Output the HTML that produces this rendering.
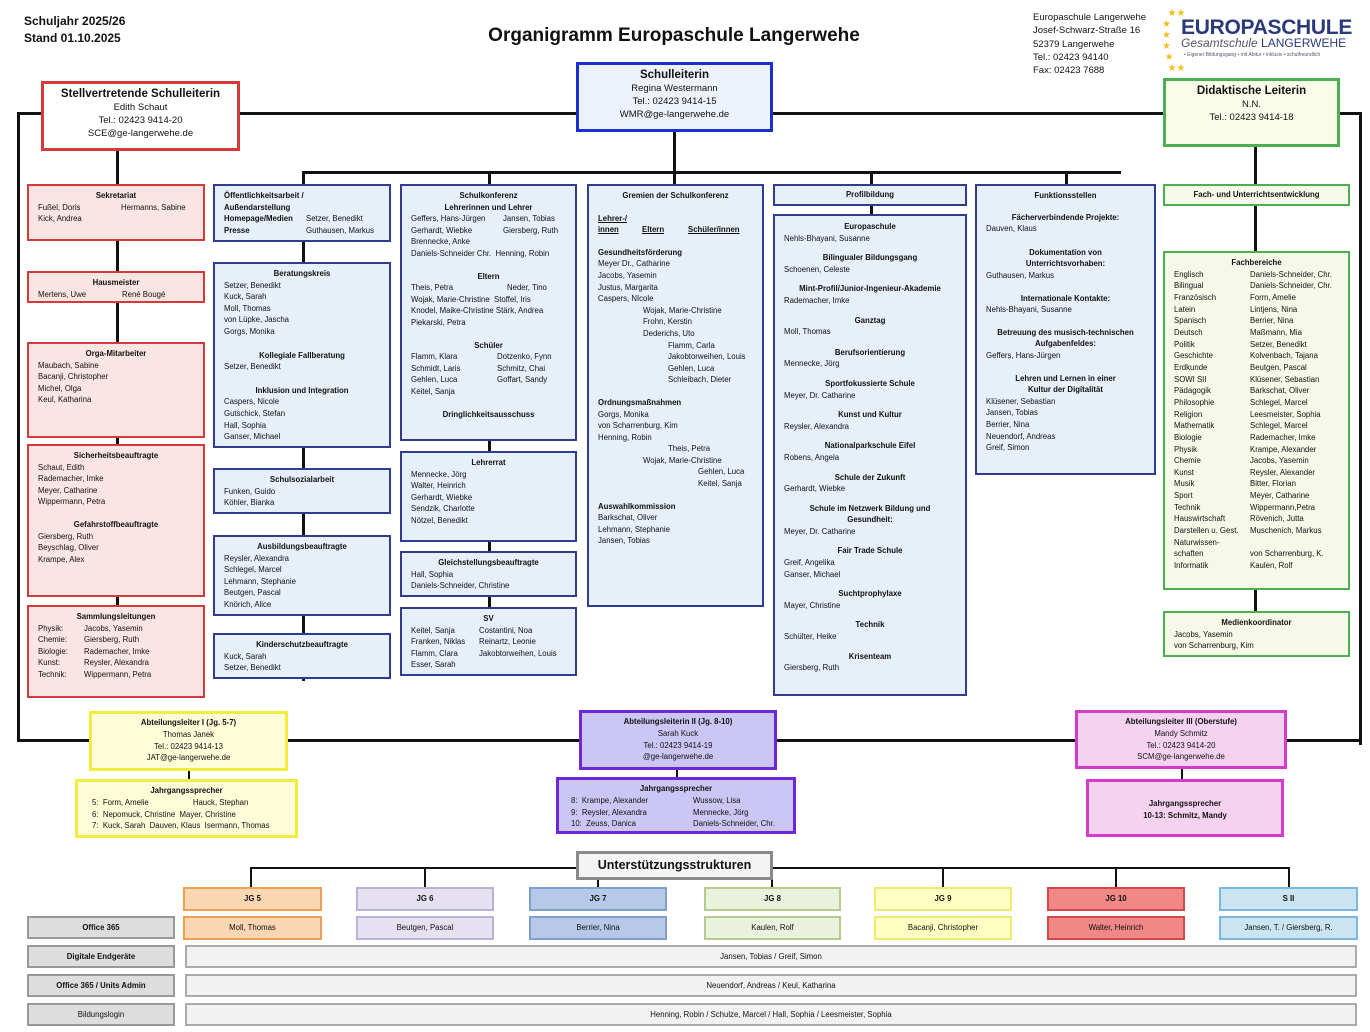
<!DOCTYPE html>
<html><head><meta charset="utf-8"><style>
body{margin:0;width:1370px;height:1032px;background:#fff;position:relative;overflow:hidden;font-family:"Liberation Sans",sans-serif;color:#111}
.b{position:absolute;box-sizing:border-box;border:2px solid #2e3d8f;background:#e7eff9;font-size:7.8px;line-height:11.6px;padding:4px 9px;white-space:nowrap;z-index:2}
.r{border-color:#d43a3a;background:#fbe4e4}
.g{border-color:#4caf50;background:#f6f9e8}
.t{font-weight:bold;text-align:center}
.s{display:inline-block}
.l{position:absolute;background:#111;z-index:1}
.u{text-decoration:underline;font-weight:bold}
.big{position:absolute;box-sizing:border-box;border:3px solid;text-align:center;font-size:9.5px;line-height:13px;padding-top:4px;z-index:3}
.big b{font-size:11.5px}
.m{position:absolute;box-sizing:border-box;border:3px solid;text-align:center;font-size:7.8px;line-height:11.8px;padding-top:3px;z-index:3;white-space:nowrap}
.j{position:absolute;box-sizing:border-box;border:2px solid;font-size:7.8px;text-align:center;line-height:19px;z-index:2}
.gr{position:absolute;box-sizing:border-box;border:2px solid #999;background:#ddd;font-size:7.8px;font-weight:bold;text-align:center;line-height:19px;left:27px;width:148px;height:23px}
.w{position:absolute;box-sizing:border-box;border:2px solid #aaa;background:#f1f1f1;font-size:7.8px;text-align:center;line-height:19px;left:185px;width:1172px;height:23px}
</style></head><body>

<div style="position:absolute;left:24px;top:13px;font-size:12px;font-weight:bold;line-height:17px">Schuljahr 2025/26<br>Stand 01.10.2025</div>
<div style="position:absolute;left:420px;width:508px;top:25px;text-align:center;font-size:19px;font-weight:bold">Organigramm Europaschule Langerwehe</div>
<div style="position:absolute;left:1033px;top:11px;font-size:9.5px;line-height:13.3px">Europaschule Langerwehe<br>Josef-Schwarz-Straße 16<br>52379 Langerwehe<br>Tel.: 02423 94140<br>Fax: 02423 7688</div>
<div style="position:absolute;left:1162px;top:8px;width:20px;height:66px;color:#f0c020;font-size:10px;line-height:11px">&nbsp;&nbsp;★★<br>★<br>★<br>★<br>&nbsp;★<br>&nbsp;&nbsp;★★</div>
<div style="position:absolute;left:1181px;top:17px;color:#2b3a7a;font-weight:bold;font-size:21px;line-height:22px;letter-spacing:-0.3px">EUROPASCHULE</div>
<div style="position:absolute;left:1181px;top:37px;color:#2b3a7a;font-size:12px;line-height:13px"><i style="font-weight:normal;color:#556">Gesamtschule</i> LANGERWEHE</div>
<div style="position:absolute;left:1184px;top:52px;color:#556;font-size:5px">• Eigener Bildungsgang • mit Abitur • inklusiv • schulfreundlich</div>

<!-- lines -->
<div class="l" style="left:17px;top:112px;width:1345px;height:3px"></div>
<div class="l" style="left:17px;top:112px;width:3px;height:629px"></div>
<div class="l" style="left:1359px;top:112px;width:3px;height:633px"></div>
<div class="l" style="left:17px;top:739px;width:1345px;height:3px"></div>
<div class="l" style="left:673px;top:130px;width:3px;height:43px"></div>
<div class="l" style="left:302px;top:171px;width:819px;height:3px"></div>
<div class="l" style="left:302px;top:171px;width:3px;height:510px"></div>
<div class="l" style="left:488px;top:171px;width:3px;height:500px"></div>
<div class="l" style="left:673px;top:171px;width:3px;height:15px"></div>
<div class="l" style="left:870px;top:171px;width:3px;height:45px"></div>
<div class="l" style="left:1065px;top:171px;width:3px;height:15px"></div>
<div class="l" style="left:116px;top:148px;width:3px;height:550px"></div>
<div class="l" style="left:1254px;top:145px;width:3px;height:470px"></div>
<div class="l" style="left:188px;top:768px;width:2px;height:12px"></div>
<div class="l" style="left:676px;top:767px;width:2px;height:12px"></div>
<div class="l" style="left:1181px;top:766px;width:2px;height:14px"></div>
<div class="l" style="left:250px;top:867px;width:1040px;height:2px"></div>
<div class="l" style="left:250px;top:867px;width:2px;height:21px"></div>
<div class="l" style="left:424px;top:867px;width:2px;height:21px"></div>
<div class="l" style="left:597px;top:867px;width:2px;height:21px"></div>
<div class="l" style="left:771px;top:867px;width:2px;height:21px"></div>
<div class="l" style="left:942px;top:867px;width:2px;height:21px"></div>
<div class="l" style="left:1115px;top:867px;width:2px;height:21px"></div>
<div class="l" style="left:1288px;top:867px;width:2px;height:21px"></div>

<!-- top boxes -->
<div class="big" style="left:576px;top:62px;width:197px;height:70px;border-color:#1a2fd0;background:#eef3fb"><b>Schulleiterin</b><br>Regina Westermann<br>Tel.: 02423 9414-15<br>WMR@ge-langerwehe.de</div>
<div class="big" style="left:41px;top:81px;width:199px;height:70px;border-color:#d43a3a;background:#fff"><b>Stellvertretende Schulleiterin</b><br>Edith Schaut<br>Tel.: 02423 9414-20<br>SCE@ge-langerwehe.de</div>
<div class="big" style="left:1163px;top:78px;width:177px;height:69px;border-color:#4caf50;background:#f8fbe8"><b>Didaktische Leiterin</b><br>N.N.<br>Tel.: 02423 9414-18</div>

<!-- col1 -->
<div class="b r" style="left:27px;top:184px;width:178px;height:57px"><div class="t">Sekretariat</div><span class="s" style="width:83px">Fußel, Doris</span>Hermanns, Sabine<br>Kick, Andrea</div>
<div class="b r" style="left:27px;top:271px;width:178px;height:32px"><div class="t">Hausmeister</div><span class="s" style="width:84px">Mertens, Uwe</span>René Bougé</div>
<div class="b r" style="left:27px;top:342px;width:178px;height:96px"><div class="t">Orga-Mitarbeiter</div>Maubach, Sabine<br>Bacanji, Christopher<br>Michel, Olga<br>Keul, Katharina</div>
<div class="b r" style="left:27px;top:444px;width:178px;height:153px"><div class="t">Sicherheitsbeauftragte</div>Schaut, Edith<br>Rademacher, Imke<br>Meyer, Catharine<br>Wippermann, Petra<div style="height:11px"></div><div class="t">Gefahrstoffbeauftragte</div>Giersberg, Ruth<br>Beyschlag, Oliver<br>Krampe, Alex</div>
<div class="b r" style="left:27px;top:605px;width:178px;height:93px"><div class="t">Sammlungsleitungen</div><span class="s" style="width:46px">Physik:</span>Jacobs, Yasemin<br><span class="s" style="width:46px">Chemie:</span>Giersberg, Ruth<br><span class="s" style="width:46px">Biologie:</span>Rademacher, Imke<br><span class="s" style="width:46px">Kunst:</span>Reysler, Alexandra<br><span class="s" style="width:46px">Technik:</span>Wippermann, Petra</div>

<!-- col2 -->
<div class="b" style="left:213px;top:184px;width:178px;height:58px;font-weight:bold">Öffentlichkeitsarbeit /<br>Außendarstellung<br><span class="s" style="width:82px">Homepage/Medien</span><span style="font-weight:normal">Setzer, Benedikt</span><br><span class="s" style="width:82px">Presse</span><span style="font-weight:normal">Guthausen, Markus</span></div>
<div class="b" style="left:213px;top:262px;width:178px;height:186px"><div class="t">Beratungskreis</div>Setzer, Benedikt<br>Kuck, Sarah<br>Moll, Thomas<br>von Lüpke, Jascha<br>Gorgs, Monika<div style="height:12px"></div><div class="t">Kollegiale Fallberatung</div>Setzer, Benedikt<div style="height:12px"></div><div class="t">Inklusion und Integration</div>Caspers, Nicole<br>Gutschick, Stefan<br>Hall, Sophia<br>Ganser, Michael</div>
<div class="b" style="left:213px;top:468px;width:178px;height:46px"><div class="t">Schulsozialarbeit</div>Funken, Guido<br>Köhler, Bianka</div>
<div class="b" style="left:213px;top:535px;width:178px;height:81px"><div class="t">Ausbildungsbeauftragte</div>Reysler, Alexandra<br>Schlegel, Marcel<br>Lehmann, Stephanie<br>Beutgen, Pascal<br>Knörich, Alice</div>
<div class="b" style="left:213px;top:633px;width:178px;height:46px"><div class="t">Kinderschutzbeauftragte</div>Kuck, Sarah<br>Setzer, Benedikt</div>

<!-- col3 -->
<div class="b" style="left:400px;top:184px;width:177px;height:257px"><div class="t">Schulkonferenz<br>Lehrerinnen und Lehrer</div><span class="s" style="width:92px">Geffers, Hans-Jürgen</span>Jansen, Tobias<br><span class="s" style="width:92px">Gerhardt, Wiebke</span>Giersberg, Ruth<br>Brennecke, Anke<br>Daniels-Schneider Chr.&nbsp; Henning, Robin<div style="height:11px"></div><div class="t">Eltern</div><span class="s" style="width:96px">Theis, Petra</span>Neder, Tino<br>Wojak, Marie-Christine&nbsp; Stoffel, Iris<br>Knodel, Maike-Christine Stärk, Andrea<br>Piekarski, Petra<div style="height:11px"></div><div class="t">Schüler</div><span class="s" style="width:86px">Flamm, Klara</span>Dotzenko, Fynn<br><span class="s" style="width:86px">Schmidt, Laris</span>Schmitz, Chai<br><span class="s" style="width:86px">Gehlen, Luca</span>Goffart, Sandy<br>Keitel, Sanja<div style="height:11px"></div><div class="t">Dringlichkeitsausschuss</div></div>
<div class="b" style="left:400px;top:451px;width:177px;height:91px"><div class="t">Lehrerrat</div>Mennecke, Jörg<br>Walter, Heinrich<br>Gerhardt, Wiebke<br>Sendzik, Charlotte<br>Nötzel, Benedikt</div>
<div class="b" style="left:400px;top:551px;width:177px;height:46px"><div class="t">Gleichstellungsbeauftragte</div>Hall, Sophia<br>Daniels-Schneider, Christine</div>
<div class="b" style="left:400px;top:607px;width:177px;height:69px"><div class="t">SV</div><span class="s" style="width:68px">Keitel, Sanja</span>Costantini, Noa<br><span class="s" style="width:68px">Franken, Niklas</span>Reinartz, Leonie<br><span class="s" style="width:68px">Flamm, Clara</span>Jakobtorweihen, Louis<br>Esser, Sarah</div>

<!-- col4 -->
<div class="b" style="left:587px;top:184px;width:177px;height:423px"><div class="t">Gremien der Schulkonferenz</div><div style="height:11px"></div><span class="u">Lehrer-/</span><br><span class="s u" style="width:44px">innen</span><span class="s u" style="width:46px">Eltern</span><span class="u">Schüler/innen</span><div style="height:11px"></div><b>Gesundheitsförderung</b><br>Meyer Dr., Catharine<br>Jacobs, Yasemin<br>Justus, Margarita<br>Caspers, NIcole<br><span style="padding-left:45px">Wojak, Marie-Christine</span><br><span style="padding-left:45px">Frohn, Kerstin</span><br><span style="padding-left:45px">Dederichs, Uto</span><br><span style="padding-left:70px">Flamm, Carla</span><br><span style="padding-left:70px">Jakobtorweihen, Louis</span><br><span style="padding-left:70px">Gehlen, Luca</span><br><span style="padding-left:70px">Schleibach, Dieter</span><div style="height:11px"></div><b>Ordnungsmaßnahmen</b><br>Gorgs, Monika<br>von Scharrenburg, Kim<br>Henning, Robin<br><span style="padding-left:70px">Theis, Petra</span><br><span style="padding-left:45px">Wojak, Marie-Christine</span><br><span style="padding-left:100px">Gehlen, Luca</span><br><span style="padding-left:100px">Keitel, Sanja</span><div style="height:11px"></div><b>Auswahlkommission</b><br>Barkschat, Oliver<br>Lehmann, Stephanie<br>Jansen, Tobias</div>

<!-- col5 -->
<div class="b" style="left:773px;top:184px;width:194px;height:22px;padding-top:3px"><div class="t">Profilbildung</div></div>
<div class="b" style="left:773px;top:214px;width:194px;height:482px;line-height:11.6px;padding-top:5px">
<div class="t">Europaschule</div>Nehls-Bhayani, Susanne<div style="height:8px"></div>
<div class="t">Bilingualer Bildungsgang</div>Schoenen, Celeste<div style="height:8px"></div>
<div class="t">Mint-Profil/Junior-Ingenieur-Akademie</div>Rademacher, Imke<div style="height:8px"></div>
<div class="t">Ganztag</div>Moll, Thomas<div style="height:9px"></div>
<div class="t">Berufsorientierung</div>Mennecke, Jörg<div style="height:8px"></div>
<div class="t">Sportfokussierte Schule</div>Meyer, Dr. Catharine<div style="height:8px"></div>
<div class="t">Kunst und Kultur</div>Reysler, Alexandra<div style="height:8px"></div>
<div class="t">Nationalparkschule Eifel</div>Robens, Angela<div style="height:8px"></div>
<div class="t">Schule der Zukunft</div>Gerhardt, Wiebke<div style="height:8px"></div>
<div class="t">Schule im Netzwerk Bildung und<br>Gesundheit:</div>Meyer, Dr. Catharine<div style="height:8px"></div>
<div class="t">Fair Trade Schule</div>Greif, Angelika<br>Ganser, Michael<div style="height:8px"></div>
<div class="t">Suchtprophylaxe</div>Mayer, Christine<div style="height:8px"></div>
<div class="t">Technik</div>Schülter, Heike<div style="height:8px"></div>
<div class="t">Krisenteam</div>Giersberg, Ruth</div>

<!-- col6 -->
<div class="b" style="left:975px;top:184px;width:181px;height:291px"><div class="t">Funktionsstellen</div><div style="height:10px"></div>
<div class="t">Fächerverbindende Projekte:</div>Dauven, Klaus<div style="height:12px"></div>
<div class="t">Dokumentation von<br>Unterrichtsvorhaben:</div>Guthausen, Markus<div style="height:11px"></div>
<div class="t">Internationale Kontakte:</div>Nehls-Bhayani, Susanne<div style="height:11px"></div>
<div class="t">Betreuung des musisch-technischen<br>Aufgabenfeldes:</div>Geffers, Hans-Jürgen<div style="height:11px"></div>
<div class="t">Lehren und Lernen in einer<br>Kultur der Digitalität</div>Klüsener, Sebastian<br>Jansen, Tobias<br>Berrier, Nina<br>Neuendorf, Andreas<br>Greif, Simon</div>

<!-- col7 -->
<div class="b g" style="left:1163px;top:184px;width:187px;height:22px;padding-top:3px"><div class="t">Fach- und Unterrichtsentwicklung</div></div>
<div class="b g" style="left:1163px;top:251px;width:187px;height:339px;line-height:11.65px"><div class="t">Fachbereiche</div>
<span class="s" style="width:76px">Englisch</span>Daniels-Schneider, Chr.<br>
<span class="s" style="width:76px">Bilingual</span>Daniels-Schneider, Chr.<br>
<span class="s" style="width:76px">Französisch</span>Form, Amelie<br>
<span class="s" style="width:76px">Latein</span>Lintjens, Nina<br>
<span class="s" style="width:76px">Spanisch</span>Berrier, Nina<br>
<span class="s" style="width:76px">Deutsch</span>Maßmann, Mia<br>
<span class="s" style="width:76px">Politik</span>Setzer, Benedikt<br>
<span class="s" style="width:76px">Geschichte</span>Kolvenbach, Tajana<br>
<span class="s" style="width:76px">Erdkunde</span>Beutgen, Pascal<br>
<span class="s" style="width:76px">SOWI SII</span>Klüsener, Sebastian<br>
<span class="s" style="width:76px">Pädagogik</span>Barkschat, Oliver<br>
<span class="s" style="width:76px">Philosophie</span>Schlegel, Marcel<br>
<span class="s" style="width:76px">Religion</span>Leesmeister, Sophia<br>
<span class="s" style="width:76px">Mathematik</span>Schlegel, Marcel<br>
<span class="s" style="width:76px">Biologie</span>Rademacher, Imke<br>
<span class="s" style="width:76px">Physik</span>Krampe, Alexander<br>
<span class="s" style="width:76px">Chemie</span>Jacobs, Yasemin<br>
<span class="s" style="width:76px">Kunst</span>Reysler, Alexander<br>
<span class="s" style="width:76px">Musik</span>Bitter, Florian<br>
<span class="s" style="width:76px">Sport</span>Meyer, Catharine<br>
<span class="s" style="width:76px">Technik</span>Wippermann,Petra<br>
<span class="s" style="width:76px">Hauswirtschaft</span>Rövenich, Jutta<br>
<span class="s" style="width:76px">Darstellen u. Gest.</span>Muschenich, Markus<br>
Naturwissen-<br>
<span class="s" style="width:76px">schaften</span>von Scharrenburg, K.<br>
<span class="s" style="width:76px">Informatik</span>Kaulen, Rolf</div>
<div class="b g" style="left:1163px;top:611px;width:187px;height:46px"><div class="t">Medienkoordinator</div>Jacobs, Yasemin<br>von Scharrenburg, Kim</div>

<!-- Abteilungen -->
<div class="m" style="left:89px;top:711px;width:199px;height:60px;border-color:#f2ec3c;background:#fffcd8"><b>Abteilungsleiter I (Jg. 5-7)</b><br>Thomas Janek<br>Tel.: 02423 9414-13<br>JAT@ge-langerwehe.de</div>
<div class="m" style="left:75px;top:779px;width:223px;height:59px;border-color:#f2ec3c;background:#fffcd8;text-align:left;padding-left:14px"><div style="text-align:center;font-weight:bold;margin-left:-14px">Jahrgangssprecher</div>5:&nbsp; <span class="s" style="width:90px">Form, Amelie</span>Hauck, Stephan<br>6:&nbsp; Nepomuck, Christine&nbsp; Mayer, Christine<br>7:&nbsp; Kuck, Sarah&nbsp; Dauven, Klaus&nbsp; Isermann, Thomas</div>
<div class="m" style="left:579px;top:710px;width:198px;height:60px;border-color:#6a28d8;background:#cbc6f4"><b>Abteilungsleiterin II (Jg. 8-10)</b><br>Sarah Kuck<br>Tel.: 02423 9414-19<br>@ge-langerwehe.de</div>
<div class="m" style="left:556px;top:777px;width:240px;height:57px;border-color:#6a28d8;background:#cbc6f4;text-align:left;padding-left:12px"><div style="text-align:center;font-weight:bold;margin-left:-12px">Jahrgangssprecher</div><span class="s" style="width:122px">8:&nbsp; Krampe, Alexander</span>Wussow, Lisa<br><span class="s" style="width:122px">9:&nbsp; Reysler, Alexandra</span>Mennecke, Jörg<br><span class="s" style="width:122px">10:&nbsp; Zeuss, Danica</span>Daniels-Schneider, Chr.</div>
<div class="m" style="left:1075px;top:710px;width:212px;height:59px;border-color:#d23cc8;background:#f6d2f1"><b>Abteilungsleiter III (Oberstufe)</b><br>Mandy Schmitz<br>Tel.: 02423 9414-20<br>SCM@ge-langerwehe.de</div>
<div class="m" style="left:1086px;top:779px;width:198px;height:58px;border-color:#d23cc8;background:#f6d2f1;padding-top:16px;font-weight:bold">Jahrgangssprecher<br>10-13: Schmitz, Mandy</div>

<!-- Unterstützung -->
<div style="position:absolute;left:576px;top:851px;width:197px;height:29px;box-sizing:border-box;border:3px solid #8a8a8a;background:#f4f4f4;text-align:center;font-weight:bold;font-size:12.5px;line-height:23px;z-index:3">Unterstützungsstrukturen</div>

<div class="j" style="left:183px;top:887px;width:139px;height:24px;border-color:#f0a050;background:#fbd6b2;font-weight:bold">JG 5</div>
<div class="j" style="left:183px;top:916px;width:139px;height:24px;border-color:#f0a050;background:#fbd6b2">Moll, Thomas</div>
<div class="j" style="left:356px;top:887px;width:138px;height:24px;border-color:#b9b1d6;background:#e6e1f1;font-weight:bold">JG 6</div>
<div class="j" style="left:356px;top:916px;width:138px;height:24px;border-color:#b9b1d6;background:#e6e1f1">Beutgen, Pascal</div>
<div class="j" style="left:529px;top:887px;width:138px;height:24px;border-color:#7f9fd0;background:#b7c9e8;font-weight:bold">JG 7</div>
<div class="j" style="left:529px;top:916px;width:138px;height:24px;border-color:#7f9fd0;background:#b7c9e8">Berrier, Nina</div>
<div class="j" style="left:704px;top:887px;width:137px;height:24px;border-color:#b5cc8e;background:#eaf1dc;font-weight:bold">JG 8</div>
<div class="j" style="left:704px;top:916px;width:137px;height:24px;border-color:#b5cc8e;background:#eaf1dc">Kaulen, Rolf</div>
<div class="j" style="left:874px;top:887px;width:138px;height:24px;border-color:#ecea70;background:#ffffc4;font-weight:bold">JG 9</div>
<div class="j" style="left:874px;top:916px;width:138px;height:24px;border-color:#ecea70;background:#ffffc4">Bacanji, Christopher</div>
<div class="j" style="left:1047px;top:887px;width:138px;height:24px;border-color:#d44848;background:#f08888;font-weight:bold">JG 10</div>
<div class="j" style="left:1047px;top:916px;width:138px;height:24px;border-color:#d44848;background:#f08888">Walter, Heinrich</div>
<div class="j" style="left:1219px;top:887px;width:139px;height:24px;border-color:#7ab8e0;background:#cbe4f2;font-weight:bold">S II</div>
<div class="j" style="left:1219px;top:916px;width:139px;height:24px;border-color:#7ab8e0;background:#cbe4f2">Jansen, T. / Giersberg, R.</div>

<div class="gr" style="top:916px">Office 365</div>
<div class="gr" style="top:945px">Digitale Endgeräte</div>
<div class="gr" style="top:974px">Office 365 / Units Admin</div>
<div class="gr" style="top:1003px;font-weight:normal">Bildungslogin</div>
<div class="w" style="top:945px">Jansen, Tobias / Greif, Simon</div>
<div class="w" style="top:974px">Neuendorf, Andreas / Keul, Katharina</div>
<div class="w" style="top:1003px">Henning, Robin / Schulze, Marcel / Hall, Sophia / Leesmeister, Sophia</div>

</body></html>
